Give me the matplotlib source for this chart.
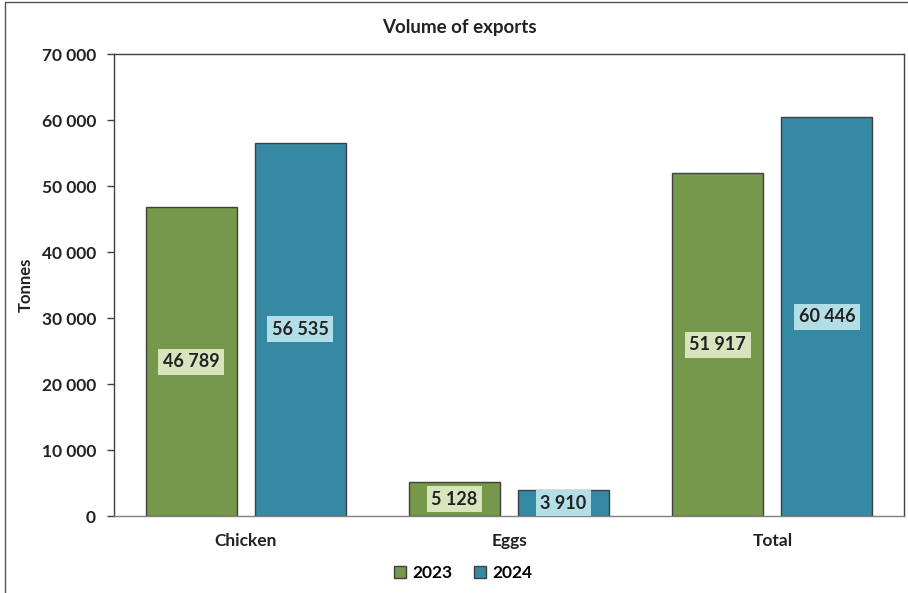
import matplotlib.pyplot as plt
import matplotlib.patches as mpatches
from matplotlib.ticker import FuncFormatter
import numpy as np

categories = ['Chicken', 'Eggs', 'Total']
years = ['2023', '2024']
exports_2023 = [46789, 5128, 51917]
exports_2024 = [56535, 3910, 60446]

bar_colors = ['#76984a', '#3589a3']
label_bg = ['#d7e4bd', '#b2dfe7']

plt.rcParams['font.family'] = ['Lato', 'DejaVu Sans']
plt.rcParams['font.weight'] = 'bold'

fig = plt.figure(figsize=(9.08, 5.93), dpi=100)
ax = fig.add_axes([0.1256, 0.1298, 0.87, 0.7791])

# outer frame of the chart area
frame = mpatches.Rectangle((0.0055, -0.05), 1.2, 1.0466, transform=fig.transFigure,
                           fill=False, edgecolor='#555555', linewidth=1.0)
fig.patches.append(frame)

x = np.arange(len(categories))
width = 0.345
offset = 0.207

for i, (vals, col, bg) in enumerate(zip([exports_2023, exports_2024], bar_colors, label_bg)):
    pos = x + (offset if i else -offset)
    bars = ax.bar(pos, vals, width, color=col, edgecolor='#404040', linewidth=1.0, label=years[i])
    for b, v in zip(bars, vals):
        txt = f'{v:,}'.replace(',', ' ')
        ax.text(b.get_x() + b.get_width() / 2, v / 2, txt, ha='center', va='center',
                fontsize=13, fontweight='bold', color='#222222',
                bbox=dict(facecolor=bg, edgecolor='none', pad=3.2))

ax.set_xlim(-0.5, 2.5)
ax.set_ylim(0, 70000)
ax.set_yticks(range(0, 70001, 10000))
ax.yaxis.set_major_formatter(FuncFormatter(lambda v, p: f'{int(v):,}'.replace(',', ' ')))
ax.set_xticks(x)
ax.set_xticklabels(categories)
ax.tick_params(axis='y', direction='out', length=5, width=1, color='#404040',
               labelsize=12.5, labelcolor='#222222', pad=8)
ax.tick_params(axis='x', length=0, labelsize=12.5, labelcolor='#222222', pad=12)
for lbl in ax.get_yticklabels() + ax.get_xticklabels():
    lbl.set_fontweight('bold')

for s in ax.spines.values():
    s.set_color('#404040')
    s.set_linewidth(1.0)
ax.spines['bottom'].set_color('#808080')

ax.set_ylabel('Tonnes', fontsize=12, fontweight='bold', color='#222222', labelpad=6)
fig.text(0.506, 0.953, 'Volume of exports', ha='center', va='center',
         fontsize=13.5, fontweight='bold', color='#222222')

fig.legend(loc='center', bbox_to_anchor=(0.51, 0.034), ncol=2, frameon=False,
           fontsize=12.5, handlelength=0.7, handleheight=0.7, handletextpad=0.4,
           columnspacing=1.2)

fig.savefig('out.png', dpi=100)
